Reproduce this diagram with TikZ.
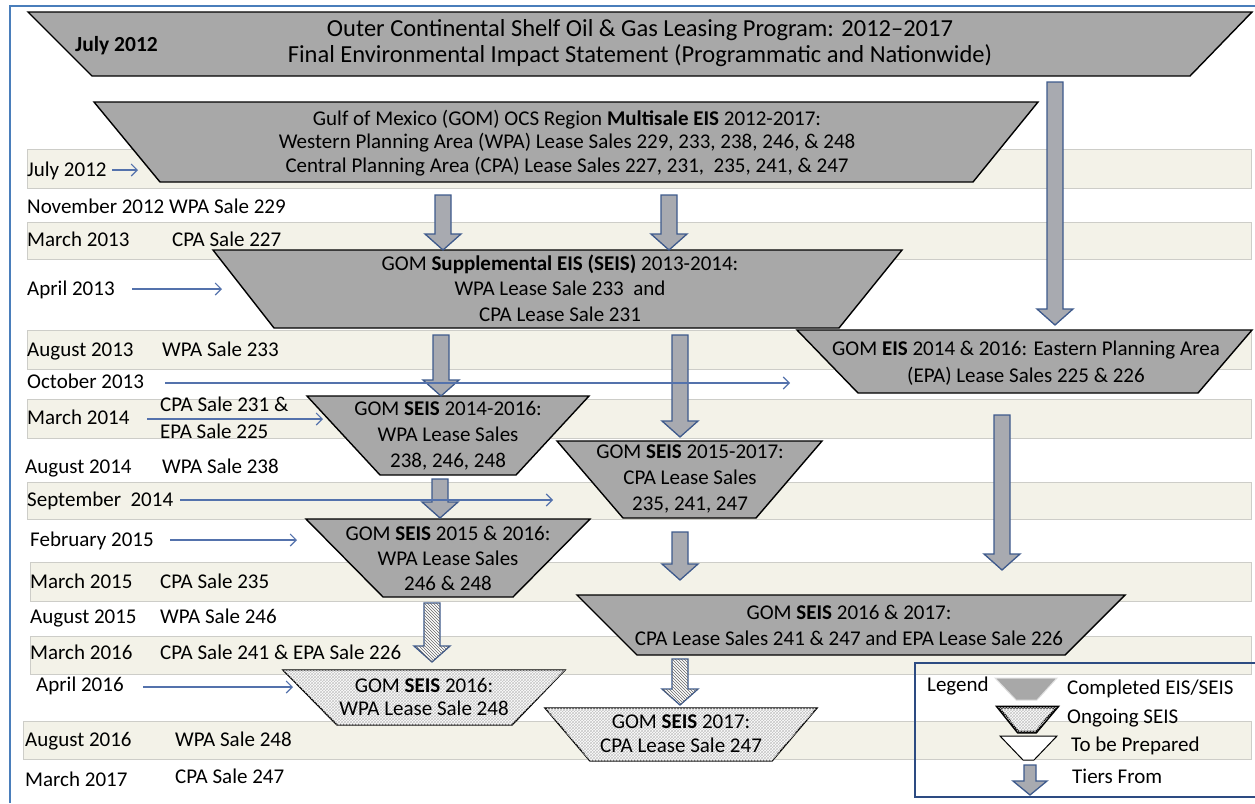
\documentclass[tikz,border=0pt]{standalone}
\usepackage{fontspec}
\setmainfont{Carlito}
\usetikzlibrary{arrows.meta,patterns,calc}
\definecolor{bandfill}{RGB}{243,242,232}
\definecolor{bandline}{RGB}{205,205,200}
\definecolor{shapegray}{RGB}{168,168,168}
\definecolor{arrowgray}{RGB}{168,170,176}
\definecolor{arrowblue}{RGB}{62,90,140}
\definecolor{tlblue}{RGB}{84,114,172}
\definecolor{frameblue}{RGB}{74,126,187}
\definecolor{legendblue}{RGB}{45,75,130}
\tikzset{
  band/.style={fill=bandfill, draw=bandline, line width=0.8pt},
  done/.style={draw=black, line width=1.4pt, fill=shapegray},
  ongoing/.style={draw=black, line width=1.4pt, fill=white, postaction={pattern=crosshatch, pattern color=gray!45}},
  tiers/.style={draw=arrowblue, line width=1.3pt, fill=arrowgray},
  hatched/.style={draw=arrowblue, line width=1.3pt, fill=white,
     postaction={pattern=north west lines, pattern color=black!60}},
  tl/.style={draw=tlblue, line width=1.1pt, -{Straight Barb[length=6pt,width=12pt]}},
  lbl/.style={anchor=west, inner sep=0pt, text height=13.5pt, text depth=0pt, font=\fontsize{21}{25}\selectfont},
  stext/.style={align=center, inner sep=0pt, font=\fontsize{21}{#1}\selectfont},
  stext/.default=25
}
% #1 style, #2 name, #3 top y, #4 bottom y, #5 top-left x, #6 top-right x, #7 bottom-left x, #8 bottom-right x
\newcommand\trapz[8]{%
  \draw[#1] (#5,#3) -- (#6,#3) -- (#8,#4) -- (#7,#4) -- cycle;
  \coordinate (#2) at ({(#5+#6)/2},{(#3+#4)/2});}
\newcommand\tierarrow[3]{%
  \draw[#1] ($(#2)+(-8,0)$) -- ($(#3)+(-8,-16)$) -- ($(#3)+(-18,-16)$) -- (#3)
     -- ($(#3)+(18,-16)$) -- ($(#3)+(8,-16)$) -- ($(#2)+(8,0)$) -- cycle;}
\begin{document}
\begin{tikzpicture}[x=1pt,y=-1pt]
\useasboundingbox (0,0) rectangle (1255,803);
% bands
\path[band] (27,149) rectangle (1251,188);
\path[band] (27,222) rectangle (1251,259);
\path[band] (27,330) rectangle (1251,369);
\path[band] (27,399) rectangle (1251,438);
\path[band] (27,482) rectangle (1251,519);
\path[band] (30,562) rectangle (1251,601);
\path[band] (30,636) rectangle (1251,674);
\path[band] (23,721) rectangle (1251,759);
% frame
\draw[frameblue, line width=2pt] (10,803) -- (10,6) -- (1255,6);
% shapes
\trapz{done}{pfeis}{12}{76}{28}{1252}{92}{1190}
\trapz{done}{multi}{102}{182}{94}{1038}{160}{973}
\trapz{done}{seis13}{250}{328}{213}{902}{274}{839}
\trapz{done}{eis14}{330}{393}{797}{1252}{858}{1198}
\trapz{done}{seis1416}{396}{475}{307}{589}{380}{516}
\trapz{done}{seis1517}{441}{518}{557}{822}{623}{756}
\trapz{done}{seis1516}{519}{597}{306}{590}{383}{513}
\trapz{done}{seis1617}{595}{655}{577}{1125}{637}{1065}
\trapz{ongoing}{seis16}{670}{725}{283}{565}{337}{512}
\trapz{ongoing}{seis17}{708}{761}{545}{817}{590}{772}
% shape texts
\node[stext, font=\fontsize{24.5}{26}\selectfont] (titlet) at (640,43)
  {Outer Continental Shelf Oil \& Gas Leasing Program: 2012--2017\\Final Environmental Impact Statement (Programmatic and Nationwide)};
\node[lbl, font=\fontsize{21.5}{25}\selectfont\bfseries] (jul12b) at (75,45) {July 2012};
\node[stext=23.5] (multit) at (567,143)
  {Gulf of Mexico (GOM) OCS Region \textbf{Multisale EIS} 2012-2017:\\Western Planning Area (WPA) Lease Sales 229, 233, 238, 246, \& 248\\Central Planning Area (CPA) Lease Sales 227, 231, \ 235, 241, \& 247};
\node[stext=25.5] (seis13t) at (560,288)
  {GOM \textbf{Supplemental EIS (SEIS)} 2013-2014:\\WPA Lease Sale 233 \ and\\CPA Lease Sale 231};
\node[stext=27] (eis14t) at (1026,363)
  {GOM \textbf{EIS} 2014 \& 2016: Eastern Planning Area\\(EPA) Lease Sales 225 \& 226};
\node[stext=26] (seis1416t) at (448,436) {GOM \textbf{SEIS} 2014-2016:\\WPA Lease Sales\\238, 246, 248};
\node[stext=26] (seis1517t) at (690,479) {GOM \textbf{SEIS} 2015-2017:\\CPA Lease Sales\\235, 241, 247};
\node[stext=25] (seis1516t) at (448,558) {GOM \textbf{SEIS} 2015 \& 2016:\\WPA Lease Sales\\246 \& 248};
\node[stext=26] (seis1617t) at (849,625) {GOM \textbf{SEIS} 2016 \& 2017:\\CPA Lease Sales 241 \& 247 and EPA Lease Sale 226};
\node[stext=23.5] (seis16t) at (424,697) {GOM \textbf{SEIS} 2016:\\WPA Lease Sale 248};
\node[stext=24] (seis17t) at (681,734) {GOM \textbf{SEIS} 2017:\\CPA Lease Sale 247};
% tier arrows
\coordinate (a1s) at (1055,82);  \coordinate (a1t) at (1055,325);
\coordinate (a2s) at (443,195);  \coordinate (a2t) at (443,250);
\coordinate (a3s) at (669,195);  \coordinate (a3t) at (669,250);
\coordinate (a4s) at (441,335);  \coordinate (a4t) at (441,396);
\coordinate (a5s) at (680,335);  \coordinate (a5t) at (680,437);
\coordinate (a6s) at (1002,415); \coordinate (a6t) at (1002,570);
\coordinate (a7s) at (440,479);  \coordinate (a7t) at (440,518);
\coordinate (a8s) at (680,532);  \coordinate (a8t) at (680,580);
\coordinate (a9s) at (432,603);  \coordinate (a9t) at (432,662);
\coordinate (a10s) at (680,659); \coordinate (a10t) at (680,705);
\tierarrow{tiers}{a1s}{a1t}
\tierarrow{tiers}{a2s}{a2t}
\tierarrow{tiers}{a3s}{a3t}
\tierarrow{tiers}{a4s}{a4t}
\tierarrow{tiers}{a5s}{a5t}
\tierarrow{tiers}{a6s}{a6t}
\tierarrow{tiers}{a7s}{a7t}
\tierarrow{tiers}{a8s}{a8t}
\tierarrow{hatched}{a9s}{a9t}
\tierarrow{hatched}{a10s}{a10t}
% timeline labels
\node[lbl] (l1) at (27,170) {July 2012};
\node[lbl] (l2) at (27,207) {November 2012 WPA Sale 229};
\node[lbl] (l3) at (27,240) {March 2013};
\node[lbl] (l3b) at (172,240) {CPA Sale 227};
\node[lbl] (l4) at (27,289) {April 2013};
\node[lbl] (l5) at (27,350) {August 2013};
\node[lbl] (l5b) at (162,350) {WPA Sale 233};
\node[lbl] (l6) at (27,382) {October 2013};
\node[lbl] (l7) at (27,418) {March 2014};
\node[lbl] (l7b) at (160,405) {CPA Sale 231 \&};
\node[lbl] (l7c) at (160,432) {EPA Sale 225};
\node[lbl] (l8) at (25,467) {August 2014};
\node[lbl] (l8b) at (162,467) {WPA Sale 238};
\node[lbl] (l9) at (27,500) {September \ 2014};
\node[lbl] (l10) at (30,540) {February 2015};
\node[lbl] (l11) at (30,582) {March 2015};
\node[lbl] (l11b) at (160,582) {CPA Sale 235};
\node[lbl] (l12) at (30,617) {August 2015};
\node[lbl] (l12b) at (160,617) {WPA Sale 246};
\node[lbl] (l13) at (30,653) {March 2016};
\node[lbl] (l13b) at (160,653) {CPA Sale 241 \& EPA Sale 226};
\node[lbl] (l14) at (36,685) {April 2016};
\node[lbl] (l15) at (25,740) {August 2016};
\node[lbl] (l15b) at (175,740) {WPA Sale 248};
\node[lbl] (l16) at (25,780) {March 2017};
\node[lbl] (l16b) at (175,777) {CPA Sale 247};
% timeline arrows
\coordinate (t1a) at (112,170);  \coordinate (t1b) at (138,170);
\coordinate (t4a) at (132,289);  \coordinate (t4b) at (222,289);
\coordinate (t6a) at (165,383);  \coordinate (t6b) at (790,383);
\coordinate (t7a) at (147,419);  \coordinate (t7b) at (323,419);
\coordinate (t9a) at (180,500);  \coordinate (t9b) at (553,500);
\coordinate (t10a) at (170,540); \coordinate (t10b) at (297,540);
\coordinate (t14a) at (143,687); \coordinate (t14b) at (293,687);
\draw[tl] (t1a) -- (t1b);
\draw[tl] (t4a) -- (t4b);
\draw[tl] (t6a) -- (t6b);
\draw[tl] (t7a) -- (t7b);
\draw[tl] (t9a) -- (t9b);
\draw[tl] (t10a) -- (t10b);
\draw[tl] (t14a) -- (t14b);
% legend
\draw[legendblue, line width=2pt] (1256,663) -- (915,663) -- (915,797) -- (1256,797);
\node[lbl] (legt) at (927,685) {Legend};
\trapz{fill=shapegray, draw=gray!25, line width=1pt}{lg1}{678}{700}{995}{1057}{1016}{1037}
\trapz{draw=black, line width=3pt, fill=white, postaction={pattern=crosshatch, pattern color=gray!45}}{lg2}{707}{732}{998}{1057}{1018}{1036}
\trapz{draw=black, line width=1pt, fill=white}{lg3}{736}{760}{1000}{1057}{1023}{1034}
\coordinate (lg4s) at (1030,765); \coordinate (lg4t) at (1030,795);
\draw[tiers] ($(lg4s)+(-6,0)$) -- ($(lg4t)+(-6,-14)$) -- ($(lg4t)+(-17,-14)$) -- (lg4t)
   -- ($(lg4t)+(17,-14)$) -- ($(lg4t)+(6,-14)$) -- ($(lg4s)+(6,0)$) -- cycle;
\node[lbl] (lgt1) at (1067,688) {Completed EIS/SEIS};
\node[lbl] (lgt2) at (1067,717) {Ongoing SEIS};
\node[lbl] (lgt3) at (1071,745) {To be Prepared};
\node[lbl] (lgt4) at (1072,777) {Tiers From};
\end{tikzpicture}
\end{document}
